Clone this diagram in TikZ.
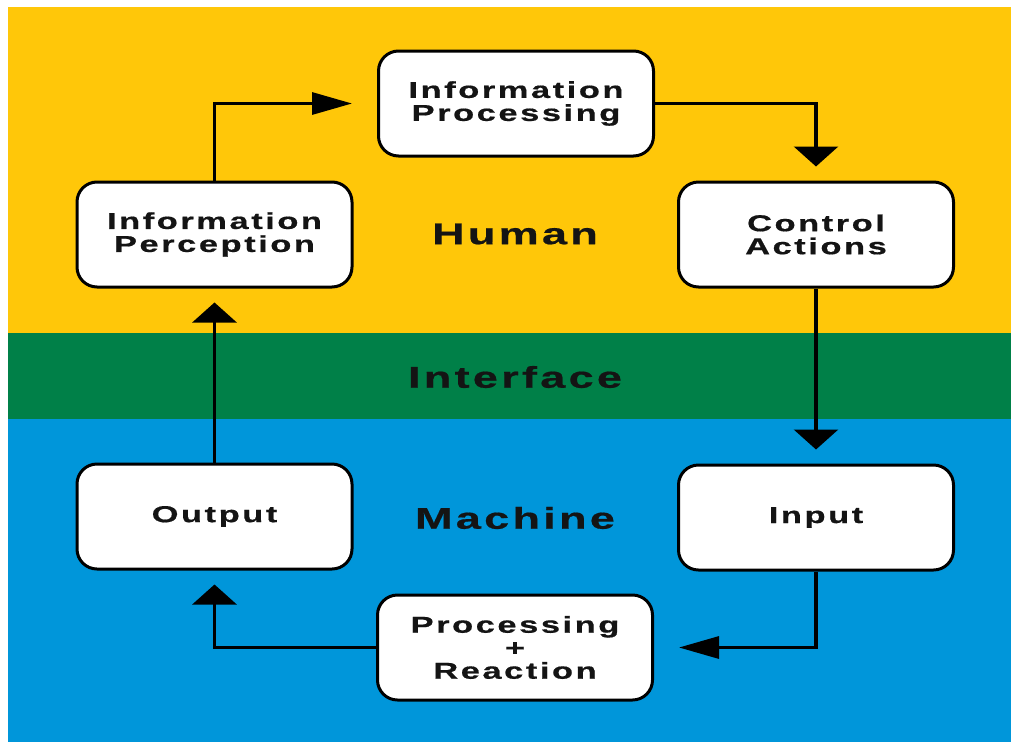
\documentclass[tikz,border=0pt]{standalone}
\usepackage{fontspec}
\setmainfont{Liberation Sans}
\newfontfamily\lblfont{Liberation Sans}[FakeStretch=1.5,LetterSpace=11,FakeBold=0.6]
\usetikzlibrary{arrows.meta}
\definecolor{humanY}{RGB}{255,199,9}
\definecolor{ifaceG}{RGB}{0,128,72}
\definecolor{machB}{RGB}{0,150,218}
\definecolor{ink}{RGB}{20,20,20}
\begin{document}
\begin{tikzpicture}[x=1pt,y=-1pt,
  stage/.style={draw=black,line width=3pt,fill=white,rounded corners=20pt,
    minimum width=275pt,minimum height=105pt,inner sep=0pt,align=center,
    text=ink,font=\lblfont\bfseries\fontsize{23}{23}\selectfont},
  zone/.style={text=ink,font=\lblfont\bfseries\fontsize{30}{30}\selectfont},
  flow/.style={draw=black,line width=3.2pt},
  hhead/.style={-{Triangle[length=40pt,width=22pt]},shorten >=25pt},
  vhead/.style={-{Triangle[length=20pt,width=44pt]},shorten >=14pt}]
  \useasboundingbox (0,0) rectangle (1011,742);
  \fill[white] (0,0) rectangle (1011,742);
  % three horizontal zones
  \fill[humanY] (8,7) rectangle (1011,333);
  \fill[ifaceG] (8,333) rectangle (1011,419);
  \fill[machB] (8,419) rectangle (1011,742);

  % zone labels
  \node[zone] (human) at (515,234) {Human};
  \node[zone] (iface) at (515,377) {Interface};
  \node[zone] (mach) at (515,518) {Machine};

  % stages of the loop
  \node[stage] (proc) at (516,103.5) {Information\\Processing};
  \node[stage] (perc) at (214.5,234.5) {Information\\Perception};
  \node[stage] (ctrl) at (816,234.5) {Control\\Actions};
  \node[stage] (outp) at (214.5,516.5) {Output};
  \node[stage] (inp) at (816,517.5) {Input};
  \node[stage] (react) at (515,647.5) {Processing\\+\\Reaction};

  % connectors
  \draw[flow,hhead] (perc.north) |- (proc.west);
  \draw[flow,vhead] (proc.east) -| (ctrl.north);
  \draw[flow,vhead] (ctrl.south) -- (inp.north);
  \draw[flow,hhead] (inp.south) |- (react.east);
  \draw[flow,vhead] (react.west) -| (outp.south);
  \draw[flow,vhead] (outp.north) -- (perc.south);
\end{tikzpicture}
\end{document}
